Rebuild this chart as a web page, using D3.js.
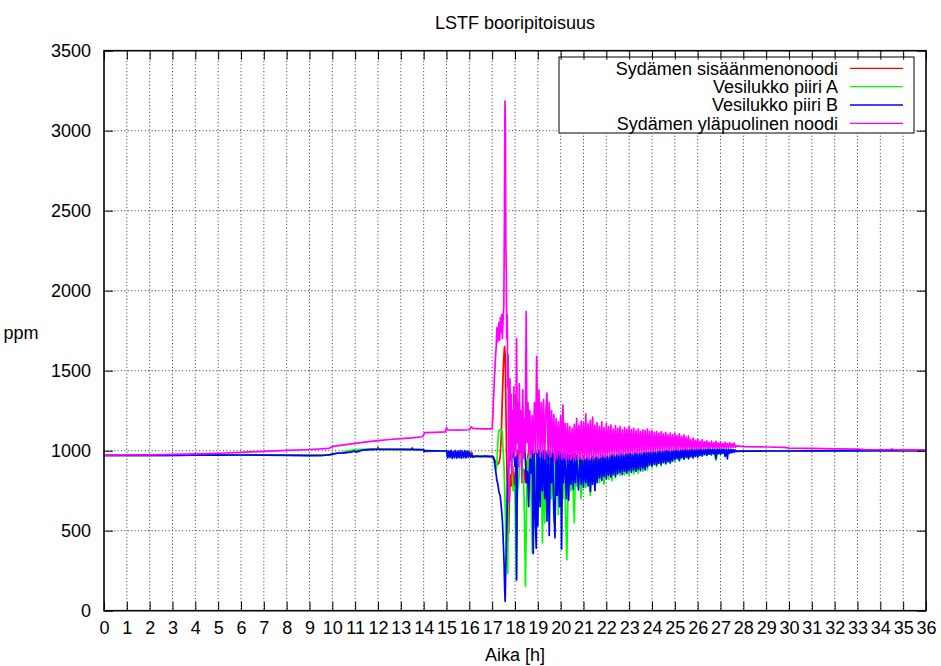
<!DOCTYPE html>
<html>
<head>
<meta charset="utf-8">
<script src="https://d3js.org/d3.v7.min.js"></script>
<style>
  body { margin: 0; background: #fff; }
  text { font-family: "Liberation Sans", Arial, Helvetica, sans-serif; }
</style>
</head>
<body>
<div id="chart"></div>
<script>
// tick values
var hourTicks = [0, 1, 2, 3, 4, 5, 6, 7, 8, 9, 10, 11, 12, 13, 14, 15, 16, 17, 18,
  19, 20, 21, 22, 23, 24, 25, 26, 27, 28, 29, 30, 31, 32, 33, 34, 35, 36];
var ppmTicks = [0, 500, 1000, 1500, 2000, 2500, 3000, 3500];

var seriesNames = ["Sydämen sisäänmenonoodi", "Vesilukko piiri A", "Vesilukko piiri B", "Sydämen yläpuolinen noodi"];

// [time h, boron ppm]
var coreInlet = [
  [0,970],[2,971],[4,972],[6,973],[8,972],[9.5,971],[9.9,975],[10.2,984],[10.6,988],[11,998],[11.5,1007],
  [11.95,1008],[12.0,1020],[12.05,1008],[13.0,1007],[13.45,1006],[13.5,1018],[13.55,1005],[14.0,1004],
  [14.05,996],[15,998],[15.5,980],[16.05,975],[16.1,990],[16.15,968],[17.0,965],[17.05,962],[17.1,945],
  [17.15,930],[17.2,920],[17.25,915],[17.3,925],[17.35,960],[17.4,1100],[17.45,1350],[17.5,1560],
  [17.54,1650],[17.57,1600],[17.6,1300],[17.64,900],[17.68,600],[17.72,480],[17.76,700],[17.8,850],
  [17.85,780],[17.9,900],[17.95,760],[18.0,850],[18.05,900],[18.1,1000],[18.15,950],[18.2,1050],
  [18.25,1000],[18.3,900],[18.35,860],[18.4,880],[18.45,800],[18.5,900],[18.6,1000],[18.7,1040],
  [18.8,950],[18.9,1000],[19.0,950],[19.1,1000],[19.2,900],[19.3,980],[19.4,930],[19.5,1000],[19.6,900],
  [19.7,970],[19.8,870],[19.9,990],[20.0,930],[20.2,960],[20.4,900],[20.6,980],[20.8,880],[21.0,960],
  [21.2,890],[21.4,965],[21.6,900],[21.8,968],[22.0,910],[22.3,972],[22.6,920],[23.0,980],[23.4,930],
  [23.8,988],[24.2,950],[24.6,998],[25.0,960],[25.5,1004],[26.0,980],[26.5,1008],[27.0,990],[27.6,1002],
  [27.7,998],[28,998],[30,999],[36,1000]
];

var loopSealA = [
  [0,970],[2,971],[4,972],[6,973],[8,972],[9.5,971],[9.9,976],[10.2,984],[10.5,992],[10.8,1002],
  [11.2,1008],[12,1008],[13,1007],[14,1005],[14.05,998],[15,997],[15.05,960],[15.5,985],[15.6,958],
  [16.0,990],[16.05,962],[16.5,964],[17.0,962],[17.05,950],[17.1,920],[17.15,880],[17.2,900],[17.23,1000],
  [17.27,1100],[17.3,1128],[17.38,1132],[17.44,1125],[17.48,1000],[17.52,900],[17.56,700],[17.6,450],
  [17.64,300],[17.68,233],[17.71,600],[17.74,950],[17.78,1200],[17.81,1358],[17.84,1000],[17.88,850],
  [17.92,750],[17.96,780],[18.0,720],[18.03,500],[18.06,193],[18.09,650],[18.12,760],[18.16,800],
  [18.2,900],[18.25,980],[18.3,920],[18.35,880],[18.4,700],[18.46,152],[18.5,600],[18.55,950],[18.6,850],
  [18.65,1000],[18.7,750],[18.76,362],[18.8,900],[18.85,1000],[18.9,700],[18.95,950],[19.0,800],
  [19.05,1000],[19.1,700],[19.15,980],[19.2,424],[19.25,990],[19.3,549],[19.35,1000],[19.4,800],
  [19.45,990],[19.5,650],[19.55,1000],[19.6,700],[19.65,990],[19.7,560],[19.75,1000],[19.8,750],
  [19.85,990],[19.9,600],[19.95,1000],[20.0,800],[20.05,990],[20.1,700],[20.15,990],[20.27,318],
  [20.35,980],[20.45,750],[20.5,975],[20.6,549],[20.65,970],
  [20.7,780],[20.8,960],[20.9,700],[21.0,950],[21.1,770],[21.2,955],[21.3,720],[21.4,950],[21.5,760],
  [21.6,960],[21.7,800],[21.8,962],[21.9,790],[22.0,965],[22.1,820],[22.2,970],[22.25,812],[22.3,972],
  [22.4,830],[22.5,975],[22.6,845],[22.7,978],[22.8,850],[22.9,980],[23.0,845],[23.1,982],[23.2,855],
  [23.3,985],[23.4,860],[23.5,985],[23.6,870],[23.7,988],[23.8,880],[23.9,990],[24.0,895],[24.1,992],
  [24.2,900],[24.3,995],[24.4,905],[24.5,998],[24.6,915],[24.7,1000],[24.8,920],[24.9,1002],[25.0,930],
  [25.1,1003],[25.2,935],[25.3,1005],[25.4,945],[25.5,1006],[25.6,950],[25.7,1007],[25.8,955],[25.9,1008],
  [26.0,960],[26.1,1008],[26.2,965],[26.3,1009],[26.4,968],[26.5,1009],[26.6,972],[26.7,1009],[26.8,940],
  [26.9,1009],[27.0,975],[27.1,1009],[27.2,980],[27.3,1008],[27.4,982],[27.5,1006],[27.6,1000],
  [27.7,997],[28,998],[30,998],[32,999],[36,1000]
];

var loopSealB = [
  [0,970],[1,970],[2,971],[3,971],[4,972],[5,972],[6,973],[7,972],[8,971],[9,969],[9.6,970],[9.9,975],
  [10.2,984],[10.5,986],[10.85,992],[10.95,998],[11.05,990],[11.3,1003],[11.7,1008],[12.5,1009],
  [13.5,1008],[14.0,1007],[14.03,994],[14.08,1001],[14.95,998],
  [15.00,1000],[15.05,955],[15.10,998],[15.15,958],[15.20,1002],[15.25,952],[15.30,996],[15.35,956],
  [15.40,1000],[15.45,954],[15.50,998],[15.55,957],[15.60,1001],[15.65,953],[15.70,997],[15.75,956],
  [15.80,1000],[15.85,955],[15.90,998],[15.95,958],[16.00,995],[16.05,960],
  [16.1,975],[16.15,960],[16.3,966],[16.5,963],[16.7,966],[16.9,963],[17.0,965],
  [17.05,958],[17.1,940],[17.15,880],[17.2,820],[17.25,790],[17.3,740],[17.35,720],[17.4,650],
  [17.45,560],[17.49,420],[17.52,300],[17.55,120],[17.57,58],[17.6,300],[17.63,450],[17.66,700],
  [17.7,860],[17.75,1020],[17.8,940],[17.85,975],[17.9,960],[17.95,990],[18.0,900],[18.04,960],
  [18.07,192],[18.1,920],[18.15,980],[18.2,1030],[18.25,1060],[18.3,1072],[18.35,1068],[18.4,1040],
  [18.45,960],[18.5,800],[18.55,870],[18.6,650],[18.65,950],[18.7,860],[18.75,990],[18.8,358],
  [18.84,980],[18.9,520],[18.93,390],[18.97,980],[19.0,530],[19.05,1000],[19.1,650],[19.15,990],
  [19.2,750],[19.25,1000],[19.3,700],[19.35,990],[19.4,560],[19.45,1000],[19.5,470],[19.55,990],
  [19.6,800],[19.65,1000],[19.7,640],[19.75,455],[19.8,990],[19.85,720],[19.9,1000],[19.95,650],
  [20.0,990],[20.04,385],[20.08,980],[20.12,800],[20.18,990],[20.25,700],[20.3,980],[20.35,690],
  [20.4,970],[20.45,790],[20.5,980],[20.55,760],[20.6,950],[20.65,800],[20.7,970],[20.78,755],[20.85,960],
  [20.90,790],[20.95,955],[21.00,770],[21.05,950],[21.10,800],[21.15,958],[21.20,780],[21.25,952],
  [21.30,745],[21.35,960],[21.40,790],[21.45,955],[21.50,750],[21.55,962],[21.60,800],[21.65,958],
  [21.70,830],[21.75,965],[21.80,815],[21.85,960],[21.90,840],[21.95,968],[22.00,825],[22.05,965],
  [22.10,845],[22.15,970],[22.20,835],[22.25,972],[22.30,850],[22.35,975],[22.40,840],[22.45,978],
  [22.50,855],[22.55,980],[22.60,865],[22.65,978],[22.70,850],[22.75,982],[22.80,870],[22.85,980],
  [22.90,860],[22.95,984],[23.00,875],[23.05,982],[23.10,865],[23.15,985],[23.20,880],[23.25,984],
  [23.30,870],[23.35,988],[23.40,885],[23.45,986],[23.50,875],[23.55,990],[23.60,890],[23.65,988],
  [23.70,880],[23.75,992],[23.80,900],[23.85,990],[23.90,910],[23.95,994],[24.00,905],[24.05,992],
  [24.10,915],[24.15,996],[24.20,910],[24.25,995],[24.30,920],[24.35,998],[24.40,915],[24.45,998],
  [24.50,925],[24.55,1000],[24.60,920],[24.65,1000],[24.70,930],[24.75,1002],[24.80,925],[24.85,1002],
  [24.90,935],[24.95,1004],[25.00,945],[25.05,1004],[25.10,950],[25.15,1005],[25.20,940],[25.25,1006],
  [25.30,955],[25.35,1006],[25.40,948],[25.45,1007],[25.50,958],[25.55,1007],[25.60,950],[25.65,1008],
  [25.70,962],[25.75,1008],[25.80,955],[25.85,1008],[25.90,965],[25.95,1009],[26.00,960],[26.05,1009],
  [26.10,970],[26.15,1010],[26.20,968],[26.25,1010],[26.30,975],[26.35,1010],[26.40,972],[26.45,1010],
  [26.50,978],[26.55,1010],[26.60,975],[26.65,1010],[26.70,980],[26.75,1010],[26.80,950],[26.85,1010],
  [26.90,982],[26.95,1010],[27.00,978],[27.05,1010],[27.10,984],[27.15,1010],[27.20,965],[27.25,1010],
  [27.30,948],[27.35,1010],[27.40,985],[27.45,1008],[27.50,988],[27.55,1006],[27.60,990],[27.65,1004],
  [27.7,996],[28,997],[29,998],[30,998],[31,999],[32,999],[34,1000],[36,1000]
];

var upperPlenum = [
  [0,972],[1,973],[2,974],[3,977],[4,980],[5,984],[6,989],[7,996],[8,1002],[8.8,1006],[9.5,1011],
  [9.85,1015],[10.05,1027],[10.5,1036],[11,1046],[11.5,1055],[12,1063],[12.5,1070],[13,1075],[13.5,1080],
  [13.95,1087],[14.05,1113],[14.5,1115],[14.95,1118],[15.0,1145],[15.05,1130],[15.5,1128],[16.0,1131],
  [16.08,1150],[16.15,1139],[16.6,1137],[17.0,1136],
  [17.03,1200],[17.06,1320],[17.1,1460],[17.14,1570],[17.18,1660],[17.21,1770],[17.24,1680],[17.27,1730],
  [17.3,1800],[17.33,1690],[17.36,1830],[17.39,1740],[17.42,1850],[17.45,1700],[17.48,1830],[17.51,1900],
  [17.54,2500],[17.56,3185],[17.58,3060],[17.6,2300],[17.62,2110],[17.64,1700],[17.66,1850],[17.68,1400],
  [17.7,1600],[17.72,680],[17.74,1300],[17.76,900],[17.78,1450],[17.8,1000],[17.83,1350],[17.86,850],
  [17.89,1250],[17.92,1000],[17.95,1400],[17.98,960],[18.01,1350],[18.04,1000],[18.07,1700],[18.1,1050],
  [18.13,1300],[18.16,900],[18.19,1420],[18.22,1000],[18.26,1250],[18.3,800],[18.34,1380],[18.38,950],
  [18.42,1200],[18.45,1000],[18.49,1870],[18.53,1050],[18.57,1300],[18.61,980],[18.65,1250],[18.7,950],
  [18.75,1220],[18.8,990],[18.85,1300],[18.9,980],[18.95,1590],[19.0,1000],[19.05,1380],[19.1,960],
  [19.15,1300],[19.2,990],[19.25,1320],[19.3,950],[19.35,1240],[19.4,1360],[19.45,975],[19.5,1300],
  [19.55,960],[19.6,1250],[19.65,990],[19.7,1225],[19.75,930],[19.8,1200],[19.85,955],[19.9,1180],
  [19.95,975],[20.0,1220],[20.05,945],[20.1,1285],[20.15,955],[20.2,1170],[20.25,940],
  [20.30,1170],[20.35,950],[20.40,1150],[20.45,945],[20.50,1140],[20.55,960],[20.60,1165],[20.65,940],
  [20.70,1200],[20.75,955],[20.80,1160],[20.85,950],[20.90,1185],[20.95,945],[21.00,1175],
  [21.05,950],[21.10,1230],[21.15,955],[21.20,1170],[21.25,945],[21.30,1190],[21.35,960],[21.40,1210],
  [21.45,950],[21.50,1160],[21.55,965],[21.60,1175],[21.65,955],[21.70,1150],[21.75,960],[21.80,1180],
  [21.85,965],[21.90,1145],[21.95,960],[22.00,1170],
  [22.05,970],[22.10,1150],[22.15,965],[22.20,1160],[22.25,975],[22.30,1135],[22.35,970],[22.40,1155],
  [22.45,978],[22.50,1140],[22.55,972],[22.60,1150],[22.65,980],[22.70,1130],[22.75,975],[22.80,1145],
  [22.85,982],[22.90,1135],[22.95,978],[23.00,1150],
  [23.05,985],[23.10,1130],[23.15,980],[23.20,1140],[23.25,988],[23.30,1125],[23.35,985],[23.40,1135],
  [23.45,990],[23.50,1120],[23.55,986],[23.60,1130],[23.65,992],[23.70,1125],[23.75,990],[23.80,1135],
  [23.85,995],[23.90,1120],[23.95,992],[24.00,1125],
  [24.05,998],[24.10,1115],[24.15,995],[24.20,1120],[24.25,1000],[24.30,1110],[24.35,998],[24.40,1118],
  [24.45,1002],[24.50,1105],[24.55,1000],[24.60,1115],[24.65,1004],[24.70,1100],[24.75,1002],[24.80,1110],
  [24.85,1005],[24.90,1100],[24.95,1004],[25.00,1108],
  [25.05,1006],[25.10,1095],[25.15,1004],[25.20,1105],[25.25,1008],[25.30,1090],[25.35,1006],[25.40,1098],
  [25.45,1010],[25.50,1085],[25.55,1008],[25.60,1092],[25.65,1010],[25.70,1070],[25.75,1012],[25.80,1078],
  [25.85,1010],[25.90,1065],[25.95,1012],[26.00,1072],
  [26.05,1014],[26.10,1060],[26.15,1012],[26.20,1068],[26.25,1015],[26.30,1055],[26.35,1014],[26.40,1062],
  [26.45,1016],[26.50,1052],[26.55,1015],[26.60,1060],[26.65,1017],[26.70,1050],[26.75,1016],[26.80,1058],
  [26.85,1018],[26.90,1048],[26.95,1017],[27.00,1055],[27.05,1018],[27.10,1046],[27.15,1018],[27.20,1052],
  [27.25,1019],[27.30,1045],[27.35,1019],[27.40,1050],[27.45,1020],[27.50,1044],[27.55,1020],[27.60,1048],
  [27.65,1022],
  [27.7,1030],[28,1026],[29,1023],[29.8,1021],[30,1016],[31,1014],[32,1012],[33,1010],[33.3,1007],
  [34,1006],[34.4,1006],[34.5,1010],[34.6,1006],[35,1005],[36,1003]
];

var seriesColors = ["#ff0000", "#00ff00", "#0000ff", "#ff00ff"];
var seriesData = [coreInlet, loopSealA, loopSealB, upperPlenum];

var svgWidth = 941;
var svgHeight = 666;

var margin = {
  top: 50.7,
  right: 15,
  bottom: 55.3,
  left: 104
};

var width = svgWidth - margin.left - margin.right;
var height = svgHeight - margin.top - margin.bottom;
var fontSize = 18;

var svg = d3
  .select("#chart")
  .append("svg")
  .attr("width", svgWidth)
  .attr("height", svgHeight);

var chartGroup = svg.append("g")
  .attr("transform", `translate(${margin.left}, ${margin.top})`);

var xLinearScale = d3.scaleLinear().domain([0, 36]).range([0, width]);
var yLinearScale = d3.scaleLinear().domain([0, 3500]).range([height, 0]);

// dotted grid
chartGroup.append("g")
  .selectAll("line")
  .data(hourTicks.filter(d => d > 0 && d < 36))
  .enter()
  .append("line")
  .attr("x1", d => xLinearScale(d))
  .attr("x2", d => xLinearScale(d))
  .attr("y1", 0)
  .attr("y2", height)
  .attr("stroke", "#333")
  .attr("stroke-width", 1)
  .attr("stroke-dasharray", "1,2.4");

chartGroup.append("g")
  .selectAll("line")
  .data(ppmTicks.filter(d => d > 0 && d < 3500))
  .enter()
  .append("line")
  .attr("x1", 0)
  .attr("x2", width)
  .attr("y1", d => yLinearScale(d))
  .attr("y2", d => yLinearScale(d))
  .attr("stroke", "#333")
  .attr("stroke-width", 1)
  .attr("stroke-dasharray", "1,2.4");

// data lines
chartGroup.append("clipPath")
  .attr("id", "plotClip")
  .append("rect")
  .attr("width", width)
  .attr("height", height);

var line = d3.line()
  .x(d => xLinearScale(d[0]))
  .y(d => yLinearScale(d[1]));

chartGroup.append("g")
  .attr("clip-path", "url(#plotClip)")
  .selectAll("path")
  .data(seriesData)
  .enter()
  .append("path")
  .attr("d", d => line(d))
  .attr("fill", "none")
  .attr("stroke", (d, i) => seriesColors[i])
  .attr("stroke-width", 1.7)
  .attr("stroke-linejoin", "round");

// legend box
var legendX = 559 - margin.left;
var legendY = 57 - margin.top;
var legend = chartGroup.append("g");

legend.append("rect")
  .attr("x", legendX)
  .attr("y", legendY)
  .attr("width", 355)
  .attr("height", 76)
  .attr("fill", "#fff")
  .attr("stroke", "#000")
  .attr("stroke-width", 1);

var rows = legend.selectAll(".row")
  .data(seriesNames)
  .enter()
  .append("g")
  .attr("transform", (d, i) => `translate(0, ${68.3 - margin.top + i * 18.35})`);

rows.append("text")
  .attr("x", 838 - margin.left)
  .attr("y", 0)
  .attr("dy", "0.35em")
  .attr("text-anchor", "end")
  .attr("font-size", fontSize)
  .attr("fill", "#000")
  .text(d => d);

rows.append("line")
  .attr("x1", 850 - margin.left)
  .attr("x2", 903 - margin.left)
  .attr("stroke", (d, i) => seriesColors[i])
  .attr("stroke-width", 1.3);

// axes with inward ticks
var bottomAxis = d3.axisBottom(xLinearScale).tickValues(hourTicks).tickSize(-9).tickPadding(10.5)
  .tickFormat(d3.format("d"));
var topAxis = d3.axisTop(xLinearScale).tickValues(hourTicks).tickSize(-9).tickFormat("");
var leftAxis = d3.axisLeft(yLinearScale).tickValues(ppmTicks).tickSize(-9).tickPadding(13)
  .tickFormat(d3.format("d"));
var rightAxis = d3.axisRight(yLinearScale).tickValues(ppmTicks).tickSize(-9).tickFormat("");

var axes = [
  chartGroup.append("g").attr("transform", `translate(0, ${height})`).call(bottomAxis),
  chartGroup.append("g").call(topAxis),
  chartGroup.append("g").call(leftAxis),
  chartGroup.append("g").attr("transform", `translate(${width}, 0)`).call(rightAxis)
];

axes.forEach(function(a) {
  a.select(".domain").remove();
  a.attr("font-family", null).attr("font-size", fontSize);
  a.selectAll("line").attr("stroke", "#000").attr("stroke-width", 1);
  a.selectAll("text").attr("fill", "#000");
});

// plot border
chartGroup.append("rect")
  .attr("width", width)
  .attr("height", height)
  .attr("fill", "none")
  .attr("stroke", "#000")
  .attr("stroke-width", 1.6);

// title and axis labels
svg.append("text")
  .attr("x", margin.left + width / 2)
  .attr("y", 28.5)
  .attr("text-anchor", "middle")
  .attr("font-size", fontSize)
  .text("LSTF booripitoisuus");

svg.append("text")
  .attr("x", margin.left + width / 2)
  .attr("y", 661)
  .attr("text-anchor", "middle")
  .attr("font-size", fontSize)
  .text("Aika [h]");

svg.append("text")
  .attr("x", 21)
  .attr("y", 339)
  .attr("text-anchor", "middle")
  .attr("font-size", fontSize)
  .text("ppm");
</script>
</body>
</html>
